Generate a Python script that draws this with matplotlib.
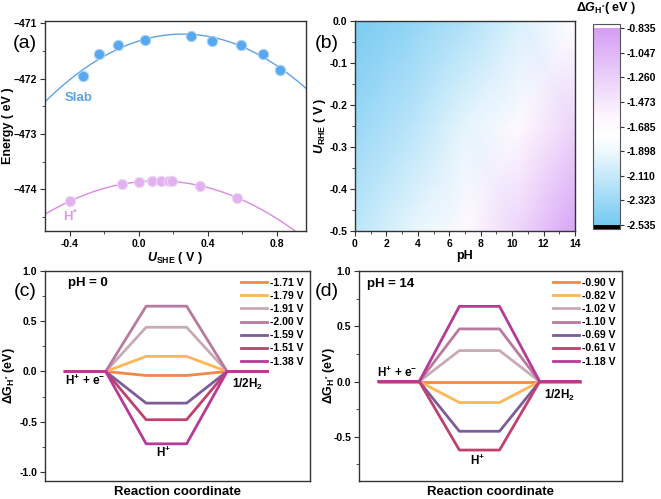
import numpy as np
import matplotlib
matplotlib.use("Agg")
import matplotlib.pyplot as plt
from matplotlib.colors import LinearSegmentedColormap
from matplotlib.ticker import MultipleLocator

plt.rcParams["font.family"] = ["Liberation Sans", "DejaVu Sans"]
plt.rcParams["font.weight"] = "bold"
plt.rcParams["axes.labelweight"] = "bold"
plt.rcParams["mathtext.fontset"] = "custom"
plt.rcParams["mathtext.rm"] = "Liberation Sans:bold"
plt.rcParams["mathtext.it"] = "Liberation Sans:bold:italic"
plt.rcParams["mathtext.bf"] = "Liberation Sans:bold"

# (a) energies vs potential
slab_u = [-0.327, -0.234, -0.122, 0.037, 0.305, 0.427, 0.593, 0.723, 0.819]
slab_e = [-471.95, -471.56, -471.39, -471.31, -471.23, -471.32, -471.39, -471.55, -471.84]
hads_u = [-0.40, -0.10, 0.0, 0.077, 0.128, 0.176, 0.195, 0.354, 0.570]
hads_e = [-474.21, -473.90, -473.87, -473.85, -473.85, -473.85, -473.85, -473.93, -474.15]

# (b) dG_H* map on pH / U_RHE grid
ph_grid = [0, 3.5, 7, 10.5, 14]
urhe_grid = [0.0, -0.25, -0.5]
dg_grid = [[-2.50, -2.38, -2.22, -2.00, -1.75],
           [-2.33, -2.17, -1.95, -1.65, -1.30],
           [-2.15, -1.95, -1.68, -1.30, -0.90]]
cbar_ticks = [-0.835, -1.047, -1.260, -1.473, -1.685, -1.898, -2.110, -2.323, -2.535]

# (c), (d) free energy diagrams
pot_ph0 = ["-1.71 V", "-1.79 V", "-1.91 V", "-2.00 V", "-1.59 V", "-1.51 V", "-1.38 V"]
dg_ph0 = [-0.04, 0.15, 0.44, 0.65, -0.315, -0.48, -0.72]
pot_ph14 = ["-0.90 V", "-0.82 V", "-1.02 V", "-1.10 V", "-0.69 V", "-0.61 V", "-1.18 V"]
dg_ph14 = [0.0, -0.19, 0.28, 0.476, -0.45, -0.62, 0.68]
line_colors = ["#f0884a", "#ffb655", "#c9aab5", "#b87a9e", "#7d5c9c", "#c0406e", "#b83a98"]

W, H = 661, 499
fig = plt.figure(figsize=(W / 100, H / 100), dpi=100)


def px_axes(l, r, t, b):
    return fig.add_axes([l / W, 1 - b / H, (r - l) / W, (b - t) / H])


def style(ax):
    for s in ax.spines.values():
        s.set_color("#333333")
        s.set_linewidth(1.0)
    ax.tick_params(which="both", direction="out", labelsize=7.5, color="#333333", pad=2)
    ax.tick_params(which="major", length=3.5)
    ax.tick_params(which="minor", length=2)


# ---- (a)
ax = px_axes(45, 306, 21, 231)
style(ax)
ux = np.linspace(-0.545, 0.97, 200)
ax.plot(ux, np.polyval(np.polyfit(slab_u, slab_e, 2), ux), color="#5ea3e6", lw=1.0)
ax.plot(ux, np.polyval(np.polyfit(hads_u, hads_e, 2), ux), color="#dc88e8", lw=1.0)
ax.scatter(slab_u, slab_e, s=55, color="#59a7ee", edgecolor="#a9d2f7", lw=0.8, zorder=3)
ax.scatter(hads_u, hads_e, s=55, color="#e2b2f0", edgecolor="#f0d6f7", lw=0.8, zorder=3)
ax.set_xlim(-0.545, 0.97)
ax.set_ylim(-474.75, -470.96)
ax.xaxis.set_major_locator(MultipleLocator(0.4))
ax.xaxis.set_minor_locator(MultipleLocator(0.2))
ax.yaxis.set_major_locator(MultipleLocator(1))
ax.yaxis.set_minor_locator(MultipleLocator(0.5))
ax.xaxis.set_major_formatter(lambda v, p: f"{v:.1f}")
ax.set_xlabel("$U$$_{\\mathrm{SHE}}$ ( V )", fontsize=9)
ax.xaxis.set_label_coords(0.5, (231 - 250) / 210)
ax.set_ylabel("Energy ( eV )", fontsize=9)
ax.yaxis.set_label_coords((14 - 45) / 261, 0.5)
ax.text(-0.43, -472.35, "Slab", color="#5ea3e6", fontsize=9.5, va="center")
ax.text(-0.44, -474.48, "H$^{*}$", color="#dc9ae8", fontsize=9.5, va="center")
fig.text(25 / W, 1 - 43 / H, "(a)", fontsize=14, fontweight="normal", ha="center", va="center")

# ---- (b)
ax = px_axes(355, 575, 21, 231)
style(ax)
cmap = LinearSegmentedColormap.from_list(
    "bw", [(0.0, "#74c9f2"), (0.374, "#eef9fe"), (0.45, "#ffffff"),
           (0.55, "#fdf6fe"), (1.0, "#d49ef5")])
cmap.set_under("black")
cmap.set_over("white")
im = ax.pcolormesh(ph_grid, urhe_grid, dg_grid, shading="gouraud", cmap=cmap,
                   vmin=-2.535, vmax=-0.835)
ax.set_xlim(0, 14)
ax.set_ylim(-0.5, 0)
ax.xaxis.set_major_locator(MultipleLocator(2))
ax.xaxis.set_minor_locator(MultipleLocator(1))
ax.yaxis.set_major_locator(MultipleLocator(0.1))
ax.yaxis.set_minor_locator(MultipleLocator(0.05))
ax.yaxis.set_major_formatter(lambda v, p: f"{v:.1f}")
ax.set_xlabel("pH", fontsize=9)
ax.xaxis.set_label_coords(0.5, (231 - 250) / 210)
ax.set_ylabel("$U$$_{\\mathrm{RHE}}$ ( V )", fontsize=9)
ax.yaxis.set_label_coords((328 - 355) / 220, 0.5)
fig.text(327 / W, 1 - 43 / H, "(b)", fontsize=14, fontweight="normal", ha="center", va="center")

cax = px_axes(593, 620, 24, 229)
cb = fig.colorbar(im, cax=cax, extend="both", extendrect=True, extendfrac=0.02)
cb.set_ticks(cbar_ticks)
cb.set_ticklabels([f"{t:.3f}" for t in cbar_ticks])
cb.outline.set_edgecolor("#555555")
cax.tick_params(labelsize=7.5, length=3, color="#333333", pad=2)
fig.text(606 / W, 1 - 8 / H, "$\\Delta G_{\\mathrm{H^{*}}}$( eV )", fontsize=9,
         ha="center", va="center")


# ---- (c), (d)
def energy_panel(ax, dgs, labels, ylim, lbl_pos, ylab_x):
    style(ax)
    for g, lab, c in zip(dgs, labels, line_colors):
        ax.plot([0, 1, 2, 3, 4, 5], [0, 0, g, g, 0, 0], color=c, lw=2.0, label=lab)
    ax.set_xlim(-0.5, 6.05)
    ax.set_ylim(*ylim)
    ax.set_xticks([])
    ax.yaxis.set_major_locator(MultipleLocator(0.5))
    ax.yaxis.set_minor_locator(MultipleLocator(0.25))
    ax.yaxis.set_major_formatter(lambda v, p: f"{v:.1f}")
    ax.set_xlabel("Reaction coordinate", fontsize=9.5)
    ax.xaxis.set_label_coords(0.5, (481 - 486) / 210)
    ax.set_ylabel("$\\Delta$G$_{\\mathrm{H^{*}}}$ (eV)", fontsize=9)
    ax.yaxis.set_label_coords(ylab_x, 0.5)
    ax.legend(loc="upper right", frameon=False, fontsize=7.5, handlelength=2.5,
              handletextpad=0.3, labelspacing=0.3, borderaxespad=0.25)
    for (x, y, t) in lbl_pos:
        ax.text(x, y, t, fontsize=8.5, ha="center", va="center")


ax = px_axes(45, 310, 271, 481)
energy_panel(ax, dg_ph0, pot_ph0, (-1.09, 1.0),
             [(0.5, -0.09, "H$^{+}$ + e$^{-}$"), (4.5, -0.13, "1/2H$_{2}$"),
              (2.42, -0.81, "H$^{+}$")], (17 - 45) / 265)
ax.text(0.08, 0.88, "pH = 0", fontsize=9.5, ha="left", va="center")
fig.text(25 / W, 1 - 292 / H, "(c)", fontsize=14, fontweight="normal", ha="center", va="center")

ax = px_axes(359, 622, 271, 481)
energy_panel(ax, dg_ph14, pot_ph14, (-0.9, 1.0),
             [(0.46, 0.075, "H$^{+}$ + e$^{-}$"), (4.5, -0.13, "1/2H$_{2}$"),
              (2.46, -0.72, "H$^{+}$")], (337 - 359) / 263)
ax.text(-0.3, 0.88, "pH = 14", fontsize=9.5, ha="left", va="center")
fig.text(327 / W, 1 - 292 / H, "(d)", fontsize=14, fontweight="normal", ha="center", va="center")

fig.savefig("out.png", dpi=100)
